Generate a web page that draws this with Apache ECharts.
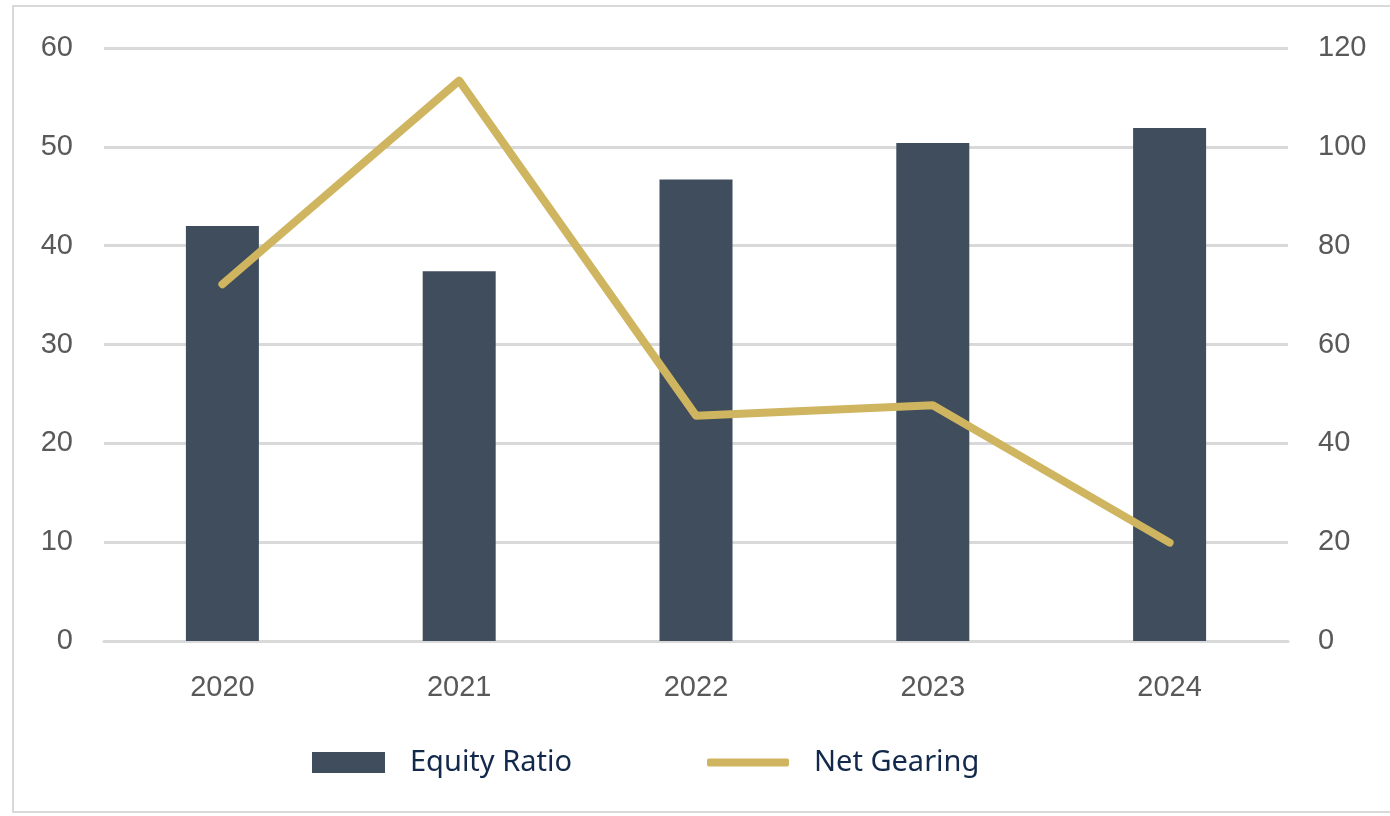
<!DOCTYPE html>
<html>
<head>
<meta charset="utf-8">
<script src="https://cdn.jsdelivr.net/npm/echarts@6/dist/echarts.min.js"></script>
<style>
    html, body { margin: 0; padding: 0; background: #fff; overflow: hidden; }
    #frame {
        position: absolute; left: 12px; top: 5px; width: 1400px; height: 808px;
        border: 2px solid #d9d9d9; box-sizing: border-box;
    }
    #chart { position: absolute; left: 0; top: 0; width: 1390px; height: 816px; }
</style>
</head>
<body>
<div id="frame"></div>
<div id="chart"></div>
<script>
// 年份
var years = ['2020', '2021', '2022', '2023', '2024'];
// 权益比率 (左轴)
var equityRatio = [42.0, 37.4, 46.7, 50.4, 51.9];
// 净负债率 (右轴)
var netGearing = [72.2, 113.4, 45.6, 47.7, 19.9];

var leftTicks = {min: 0, max: 60, interval: 10};
var rightTicks = {min: 0, max: 120, interval: 20};

function render(divId) {
    var dom = document.getElementById(divId);
    var myChart = echarts.init(dom);
    var axisLabelStyle = {
        color: '#595959',
        fontSize: 29,
        fontFamily: 'Liberation Sans, Arial, sans-serif'
    };
    var legendText = {
        color: '#13294b',
        fontSize: 29,
        fontFamily: 'Noto Sans, sans-serif',
        padding: [0, 0, 0, 20]
    };
    var option = {
        animation: false,
        grid: {
            left: 104,
            right: 102,
            top: 48,
            bottom: 175
        },
        legend: [
            {
                data: [{name: 'Equity Ratio', icon: 'rect'}],
                left: 312,
                top: 748,
                padding: 0,
                itemWidth: 73,
                itemHeight: 21,
                itemGap: 0,
                textStyle: legendText
            },
            {
                data: [{name: 'Net Gearing', icon: 'roundRect'}],
                left: 707,
                top: 748,
                padding: 0,
                itemWidth: 82,
                itemHeight: 8,
                itemGap: 0,
                textStyle: legendText
            }
        ],
        xAxis: {
            type: 'category',
            data: years,
            axisLine: {show: true, lineStyle: {color: '#d9d9d9', width: 3}},
            axisTick: {show: false},
            axisLabel: Object.assign({margin: 32}, axisLabelStyle)
        },
        yAxis: [
            {
                type: 'value',
                min: leftTicks.min,
                max: leftTicks.max,
                interval: leftTicks.interval,
                axisLine: {show: false},
                axisTick: {show: false},
                splitLine: {lineStyle: {color: '#d9d9d9', width: 3}},
                axisLabel: Object.assign({margin: 31}, axisLabelStyle)
            },
            {
                type: 'value',
                min: rightTicks.min,
                max: rightTicks.max,
                interval: rightTicks.interval,
                axisLine: {show: false},
                axisTick: {show: false},
                splitLine: {show: false},
                axisLabel: Object.assign({margin: 30}, axisLabelStyle)
            }
        ],
        series: [
            {
                name: 'Equity Ratio',
                type: 'bar',
                yAxisIndex: 0,
                data: equityRatio,
                barWidth: 73,
                itemStyle: {color: '#3f4d5c'}
            },
            {
                name: 'Net Gearing',
                type: 'line',
                yAxisIndex: 1,
                data: netGearing,
                symbol: 'none',
                lineStyle: {color: '#cfb560', width: 8, cap: 'round', join: 'round'},
                itemStyle: {color: '#cfb560'}
            }
        ]
    };
    myChart.setOption(option);
}

render('chart');
</script>
</body>
</html>
